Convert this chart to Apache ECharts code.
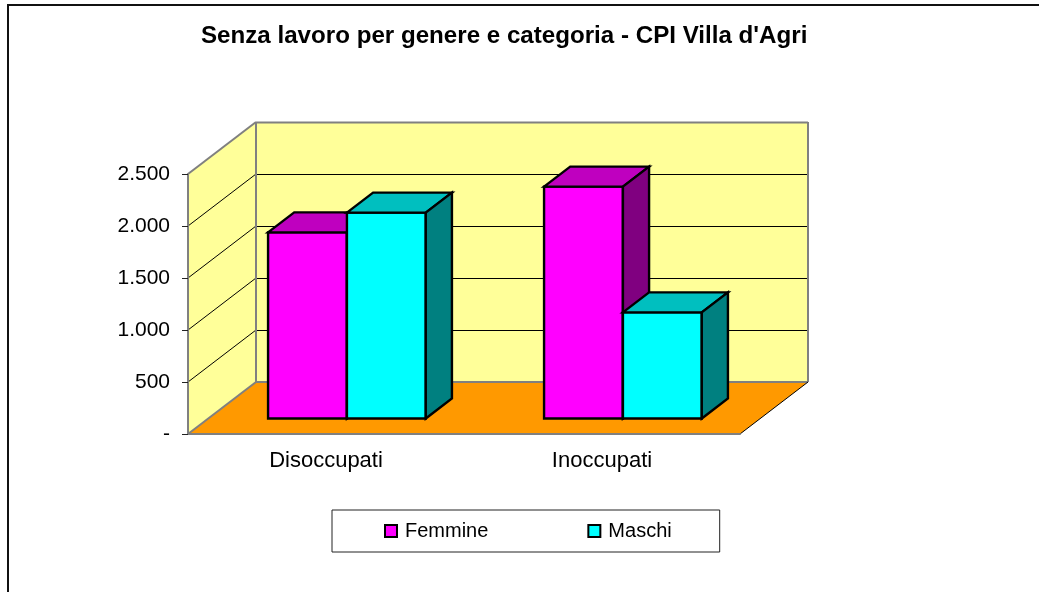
<!DOCTYPE html>
<html><head><meta charset="utf-8">
<style>html,body{margin:0;padding:0;background:#fff}#c{width:1039px;height:592px}</style>
<script src="https://cdn.jsdelivr.net/npm/echarts@6/dist/echarts.min.js"></script>
</head><body><div id="c"></div>
<script>
const categories = ['Disoccupati', 'Inoccupati'];
const femmine = [1790, 2230];
const maschi = [1980, 1020];
const yTicks = [500, 1000, 1500, 2000, 2500];
const FONT = '"Liberation Sans", Arial, sans-serif';

const DX = 68, DY = 52;           // depth of the floor, in pixels
const BAR_NEAR = 16 / 52, BAR_FAR = 36 / 52; // bar position inside the depth

function poly(points, fill, stroke, lw) {
  return { type: 'polygon', shape: { points }, style: { fill, stroke: stroke || 'none', lineWidth: lw || 0, lineJoin: 'miter' } };
}
function line(a, b, stroke, lw) {
  return { type: 'line', shape: { x1: a[0], y1: a[1], x2: b[0], y2: b[1] }, style: { stroke, lineWidth: lw, fill: 'none' } };
}
function renderWalls(params, api) {
  const W = api.size([1, 0])[0];
  const x0 = api.coord([0, 0])[0] - W / 2;
  const x1 = x0 + W * categories.length;
  const y0 = api.coord([0, 0])[1];
  const yT = api.coord([0, 2500])[1];
  const GR = '#808080', YL = '#FFFF99';
  const kids = [
    poly([[x0 + DX, yT - DY], [x1 + DX, yT - DY], [x1 + DX, y0 - DY], [x0 + DX, y0 - DY]], YL),
    poly([[x0, yT], [x0 + DX, yT - DY], [x0 + DX, y0 - DY], [x0, y0]], YL),
    poly([[x0, y0], [x0 + DX, y0 - DY], [x1 + DX, y0 - DY], [x1, y0]], '#FF9900')
  ];
  yTicks.forEach(function (t) {
    const y = api.coord([0, t])[1];
    if (t < 2500) {
      kids.push(line([x0, y], [x0 + DX, y - DY], '#000', 1));
      kids.push(line([x0 + DX, y - DY + 0.5], [x1 + DX, y - DY + 0.5], '#000', 1));
    } else {
      kids.push(line([x0 + DX, y + 0.5], [x1 + DX, y + 0.5], '#000', 1));
    }
  });
  kids.push(line([x0, yT], [x0 + DX, yT - DY], GR, 2));
  kids.push(line([x0 + DX, yT - DY + 0.5], [x1 + DX, yT - DY + 0.5], GR, 2));
  kids.push(line([x0 + DX, yT - DY], [x0 + DX, y0 - DY], GR, 2));
  kids.push(line([x1 + DX, yT - DY], [x1 + DX, y0 - DY], GR, 2));
  kids.push(line([x0, y0], [x0 + DX, y0 - DY], GR, 2));
  kids.push(line([x0 + DX, y0 - DY], [x1 + DX, y0 - DY], GR, 2));
  kids.push(line([x1, y0], [x1 + DX, y0 - DY], '#000', 1));
  kids.push(line([x0, y0 - 0.5], [x1, y0 - 0.5], '#000', 1));
  return { type: 'group', children: kids };
}
function barRenderer(slot, front, top, side) {
  return function (params, api) {
    const W = api.size([1, 0])[0];
    const base = api.coord([api.value(0), 0]);
    const head = api.coord([api.value(0), api.value(1)]);
    const w = W / 3.5;
    const l = base[0] + slot * w + DX * BAR_NEAR;
    const r = l + w;
    const yb = base[1] - DY * BAR_NEAR + 0.5;
    const yt = head[1] - DY * BAR_NEAR + 0.5;
    const dx = DX * (BAR_FAR - BAR_NEAR), dy = DY * (BAR_FAR - BAR_NEAR);
    return { type: 'group', children: [
      poly([[l, yt], [r, yt], [r, yb], [l, yb]], front, '#000', 2.4),
      poly([[l, yt], [l + dx, yt - dy], [r + dx, yt - dy], [r, yt]], top, '#000', 2.4),
      poly([[r, yt], [r + dx, yt - dy], [r + dx, yb - dy], [r, yb]], side, '#000', 2.4)
    ] };
  };
}
const chart = echarts.init(document.getElementById('c'));
chart.setOption({
  animation: false,
  backgroundColor: '#fff',
  title: { text: "Senza lavoro per genere e categoria - CPI Villa d'Agri", left: 201, top: 24, padding: 0,
    textStyle: { fontFamily: FONT, fontSize: 24.15, fontWeight: 'bold', color: '#000' } },
  grid: { left: 188, top: 174, width: 552, height: 260, containLabel: false },
  xAxis: { type: 'category', data: categories, z: 5,
    axisLine: { lineStyle: { color: '#808080', width: 2 } },
    axisTick: { length: 6, lineStyle: { color: '#666', width: 2 } },
    axisLabel: { color: '#000', fontFamily: FONT, fontSize: 22, margin: 16 } },
  yAxis: { type: 'value', min: 0, max: 2500, interval: 500, z: 5,
    axisLine: { show: true, lineStyle: { color: '#808080', width: 2 } },
    axisTick: { show: true, length: 6, lineStyle: { color: '#222' } },
    splitLine: { show: false },
    axisLabel: { color: '#000', fontFamily: FONT, fontSize: 21, margin: 18, padding: [0, 0, 2, 0],
      formatter: v => v === 0 ? '-' : String(v).replace(/(\d)(\d{3})$/, '$1.$2') } },
  legend: { data: ['Femmine', 'Maschi'], left: 332, top: 510, orient: 'horizontal', icon: 'rect',
    itemWidth: 12, itemHeight: 12, itemGap: 99, padding: [11, 48, 11, 52],
    borderColor: '#222', borderWidth: 1, backgroundColor: '#fff',
    textStyle: { fontFamily: FONT, fontSize: 20, color: '#000', padding: [0, 0, 0, 3] } },
  graphic: [{ type: 'rect', silent: true, z: -1, shape: { x: 8, y: 5, width: 1100, height: 700 },
    style: { fill: 'none', stroke: '#111', lineWidth: 2 } }],
  series: [
    { name: 'pareti', type: 'custom', silent: true, z: 1, clip: false, data: [[0, 0]], encode: { x: 0, y: 1 }, renderItem: renderWalls },
    { name: 'Femmine', type: 'custom', z: 2, clip: false, itemStyle: { color: '#FF00FF', borderColor: '#000', borderWidth: 2 },
      data: femmine.map((v, i) => [i, v]), encode: { x: 0, y: 1 }, renderItem: barRenderer(-1, '#FF00FF', '#BF00BF', '#800080') },
    { name: 'Maschi', type: 'custom', z: 3, clip: false, itemStyle: { color: '#00FFFF', borderColor: '#000', borderWidth: 2 },
      data: maschi.map((v, i) => [i, v]), encode: { x: 0, y: 1 }, renderItem: barRenderer(0, '#00FFFF', '#00BFBF', '#008080') }
  ]
});
</script></body></html>
